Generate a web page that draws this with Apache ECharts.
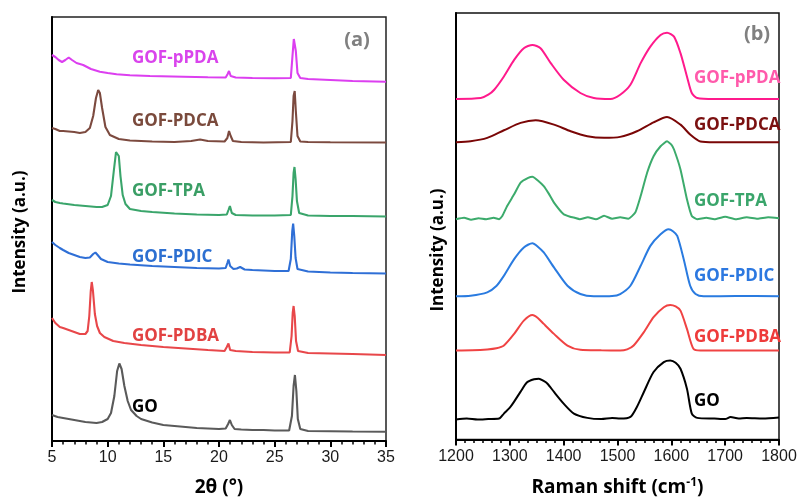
<!DOCTYPE html>
<html><head><meta charset="utf-8">
<script src="https://cdn.jsdelivr.net/npm/echarts@6/dist/echarts.min.js"></script>
<style>html,body{margin:0;padding:0;background:#fff}#c{width:801px;height:502px}</style>
</head><body><div id="c"></div>
<script>
// ---- XRD (panel a) : [2theta, stacked intensity] ----
const xrdGO = [[5,26],[5.5,24],[6,23],[7,21],[8,19],[9,18],[9.5,19],[10,22],[10.3,28],[10.6,45],[10.85,70],[11.05,77.5],[11.25,72],[11.5,55],[11.8,40],[12.1,31],[12.6,25],[13,22],[14,18.5],[15,16],[16,15],[17,14],[18,13],[19,12.5],[20,12],[20.6,12.5],[20.82,17],[20.98,21],[21.15,16],[21.4,12],[22,11.5],[23,11],[24,11],[25,10.5],[26.3,10.5],[26.55,25],[26.7,55],[26.82,66],[26.95,50],[27.08,22],[27.3,12],[28,10],[30,9.8],[32,9.5],[35,9.3]];
const xrdPDBA = [[5,123],[5.3,118],[5.7,114],[6,113],[6.5,111],[7,109],[7.5,107],[8,107],[8.2,110],[8.35,125],[8.48,150],[8.57,159],[8.68,150],[8.85,127],[9.05,115],[9.3,108],[9.7,104],[10.5,100],[11.5,98],[13,96],[15,94],[17,92.5],[19,91],[20.5,90],[20.7,94],[20.85,97.5],[21,91],[21.5,90],[23,89],[25,88.5],[26.35,88.5],[26.52,105],[26.62,128],[26.7,135],[26.8,125],[26.92,100],[27.1,90],[28,88],[30,87.5],[32,87],[35,86]];
const xrdPDIC = [[5,199],[5.3,196],[5.7,193],[6,191],[6.5,188],[7,186],[7.5,184],[8,183],[8.4,183.5],[8.7,187],[8.9,188.5],[9.1,186],[9.4,182],[10,179],[11,177.5],[12,176.5],[14,175],[16,174],[18,173],[20,172.5],[20.6,173],[20.75,178],[20.85,181.5],[21,175],[21.3,172],[21.6,172.5],[21.9,174],[22.3,171.5],[23,171],[25,170],[26.25,170],[26.45,182],[26.58,210],[26.66,217.5],[26.76,205],[26.88,183],[27.05,172],[28,169.5],[30,168.5],[32,168],[35,167.5]];
const xrdTPA = [[5,241],[5.3,239],[5.7,238],[6,237.5],[7,236],[8,235],[9,234],[9.5,234],[10,236],[10.3,245],[10.55,270],[10.75,289],[10.88,291],[11,285],[11.15,265],[11.35,246],[11.6,237],[12,232],[13,230],[14,229],[16,227.5],[18,226.5],[20,226],[20.7,226.5],[20.85,231],[20.98,235],[21.15,228],[21.5,226],[23,225.5],[25,225.5],[26.45,226],[26.6,245],[26.7,268],[26.78,274],[26.88,262],[27,240],[27.2,228],[28,225.5],[30,225],[32,225],[35,224.5]];
const xrdPDCA = [[5,313],[5.3,312],[5.7,310],[6,310],[7,309],[7.5,308],[8,309],[8.4,313],[8.7,325],[8.95,343],[9.15,351],[9.3,348],[9.5,333],[9.8,314],[10.2,306],[11,302],[12,300.5],[14,299.5],[16,299],[17.5,300],[18.3,301.5],[19,300],[20.5,299.5],[20.75,303],[20.9,310],[21.05,305],[21.25,300],[22,299],[24,298.5],[26.45,299],[26.6,320],[26.7,345],[26.8,350],[26.9,330],[27.05,305],[27.3,299.5],[28,299],[30,298.7],[35,298.5]];
const xrdPPDA = [[5,386],[5.3,384],[5.6,381],[5.9,379],[6.2,381],[6.5,383.5],[6.8,381],[7.2,378],[7.8,376],[8.5,372],[9.3,369.3],[10,368],[10.8,366.7],[12,365.8],[13.8,365],[16.8,364.3],[19,363.8],[20.6,363.5],[20.78,367],[20.9,370],[21.05,365],[21.5,363.5],[23,363],[25,362.7],[26.45,363],[26.6,385],[26.72,402],[26.8,404],[26.9,390],[27.05,368],[27.3,363],[28,362],[30,361],[32,360],[35,359.3]];

// ---- Raman (panel b) : [shift, stacked intensity] ----
const ramGO = [[1200,20],[1220,21],[1240,20],[1260,20.5],[1280,21],[1289,26],[1300,32],[1308,38],[1320,48],[1332,57.5],[1345,60.5],[1354,61],[1362,59],[1370,56],[1382,47.7],[1400,36],[1419,26],[1444,21.7],[1470,20.5],[1490,21.5],[1505,21],[1524,22.7],[1536,32.7],[1549,47.7],[1567,67.7],[1586,77.7],[1598,79.3],[1608,77],[1617,71],[1629,51],[1638,26],[1648,21.7],[1680,21],[1700,20.5],[1710,22.5],[1725,21],[1740,21.5],[1770,21],[1800,22]];
const ramPDBA = [[1200,89.3],[1230,89.5],[1258,90.3],[1275,91.5],[1289,94.3],[1308,106],[1326,119.3],[1342,125],[1352,122],[1363,116],[1382,106],[1407,94.3],[1431,90],[1470,89.5],[1505,89.3],[1518,90.5],[1530,94.3],[1549,107.7],[1567,122.7],[1586,132.7],[1598,135],[1608,133.5],[1617,129.3],[1629,111],[1641,91],[1654,89.3],[1700,89.3],[1800,89.3]];
const ramPDIC = [[1200,143.7],[1227,144.3],[1258,147.7],[1275,154],[1289,164.3],[1308,181],[1326,192.7],[1342,197],[1352,193.5],[1363,187.7],[1382,172.7],[1407,154.3],[1431,146],[1456,143.7],[1490,144],[1505,146],[1524,154.3],[1543,174.3],[1561,194.3],[1580,206],[1595,211],[1603,209],[1611,204.3],[1623,181],[1635,154.3],[1645,146],[1660,143.7],[1720,144],[1800,143.7]];
const ramTPA = [[1200,221],[1215,222.5],[1228,220.5],[1242,222],[1256,221],[1270,222.5],[1280,221],[1286,224.3],[1295,234.3],[1308,246],[1320,257.7],[1334,262.5],[1342,263.7],[1352,260],[1363,254.3],[1372,247],[1382,237.7],[1400,226],[1412,223.5],[1419,222.7],[1430,221],[1445,223],[1460,221],[1475,224.5],[1490,221.5],[1505,223],[1520,221.5],[1533,227.7],[1543,244.3],[1555,267.7],[1567,284.3],[1580,294.3],[1592,299.3],[1600,296],[1605,291],[1617,271],[1629,241],[1638,224.3],[1648,221],[1665,222.5],[1680,221],[1700,223.5],[1720,221],[1740,223],[1760,221.5],[1780,223],[1800,222]];
const ramPDCA = [[1200,298.3],[1227,299.3],[1258,302.7],[1289,310.3],[1320,317.7],[1348,320.3],[1382,316],[1413,309.3],[1444,304.3],[1475,302.7],[1505,303.7],[1536,309.3],[1567,318.3],[1592,323.7],[1617,316],[1635,306],[1654,299],[1680,298.3],[1800,298.3]];
const ramPPDA = [[1200,341.7],[1246,342.7],[1260,346],[1271,351],[1289,364.3],[1308,381],[1326,392.7],[1342,396],[1357,392.7],[1376,377.7],[1400,361],[1431,347.7],[1456,342.7],[1487,341.7],[1505,346],[1524,356],[1543,377.7],[1561,394.3],[1580,406],[1592,408.3],[1605,404.3],[1617,387.7],[1629,364.3],[1638,347.7],[1648,342.7],[1680,341.7],[1800,341.7]];

const xrdTicks = [5, 10, 15, 20, 25, 30, 35];
const ramTicks = [1200, 1300, 1400, 1500, 1600, 1700, 1800];

const xrdColors = {GO:'#5a5a5a', PDBA:'#e8474a', PDIC:'#2f6fd6', TPA:'#3aa56b', PDCA:'#7c4a3f', pPDA:'#dc3ff0'};
const ramColors = {GO:'#000000', PDBA:'#f04343', PDIC:'#2a7be0', TPA:'#3cab6c', PDCA:'#7a0606', pPDA:'#ff1a8c'};

const chart = echarts.init(document.getElementById('c'), null, {renderer:'canvas'});
const tickFont = {fontFamily:'Liberation Sans', fontSize:16, color:'#1a1a1a'};
const titleFont = 'Open Sans';

function xAxisCfg(idx, min, max, interval, minorSplit, name, ticks) {
  return {
    gridIndex: idx, type:'value', min, max, interval,
    axisLine:{show:true, onZero:false, lineStyle:{color:'#000', width:2}},
    axisTick:{show:true, inside:false, length:6, lineStyle:{color:'#000', width:2}},
    minorTick:{show:true, splitNumber:minorSplit, length:3.5, lineStyle:{color:'#000', width:1.5}},
    splitLine:{show:false},
    axisLabel:Object.assign({margin:9, formatter: v => ticks.includes(v) ? String(v) : ''}, tickFont),
    name, nameLocation:'middle', nameGap:37,
    nameTextStyle:{fontFamily:titleFont, fontWeight:'bold', fontSize:19, color:'#000',
      rich:{sup:{fontFamily:titleFont, fontWeight:'bold', fontSize:12, color:'#000', verticalAlign:'top', padding:[0,0,10,0]}}}
  };
}
function yAxisCfg(idx, max) {
  return {gridIndex: idx, type:'value', min:0, max,
    axisLine:{show:true, lineStyle:{color:'#000', width:2}},
    axisTick:{show:false}, axisLabel:{show:false}, splitLine:{show:false}};
}
function line(data, color, xi, w, smooth) {
  return {type:'line', data, xAxisIndex:xi, yAxisIndex:xi, showSymbol:false, symbol:'none',
    smooth: smooth, lineStyle:{color, width:w}, silent:true, animation:false};
}
function label(x, y, text, color, size, align) {
  return {type:'text', x, y, silent:true, style:{text, fill:color, font:'bold '+size+'px "'+titleFont+'"', textAlign:align||'left', textVerticalAlign:'middle'}};
}

chart.setOption({
  animation:false,
  grid:[
    {left:52, top:17, width:334, height:424, show:true, borderColor:'#222', borderWidth:1.5},
    {left:456, top:13, width:323, height:428, show:true, borderColor:'#111', borderWidth:1.5}
  ],
  xAxis:[
    xAxisCfg(0, 5, 35, 5, 5, '2θ (°)', xrdTicks),
    xAxisCfg(1, 1200, 1800, 100, 6, 'Raman shift (cm{sup|-1})', ramTicks)
  ],
  yAxis:[yAxisCfg(0, 424), yAxisCfg(1, 428)],
  series:[
    line(xrdGO, xrdColors.GO, 0, 2.1, false),
    line(xrdPDBA, xrdColors.PDBA, 0, 2.1, false),
    line(xrdPDIC, xrdColors.PDIC, 0, 2.1, false),
    line(xrdTPA, xrdColors.TPA, 0, 2.1, false),
    line(xrdPDCA, xrdColors.PDCA, 0, 2.1, false),
    line(xrdPPDA, xrdColors.pPDA, 0, 2.1, false),
    line(ramGO, ramColors.GO, 1, 2, 0.25),
    line(ramPDBA, ramColors.PDBA, 1, 2, 0.25),
    line(ramPDIC, ramColors.PDIC, 1, 2, 0.25),
    line(ramTPA, ramColors.TPA, 1, 2, 0.15),
    line(ramPDCA, ramColors.PDCA, 1, 2, 0.25),
    line(ramPPDA, ramColors.pPDA, 1, 2, 0.25)
  ],
  graphic:[
    label(132, 58, 'GOF-pPDA', '#d944ec', 17),
    label(132, 121, 'GOF-PDCA', '#7a4a3c', 17),
    label(132, 191, 'GOF-TPA', '#3a9e65', 17),
    label(132, 257, 'GOF-PDIC', '#2c6fd1', 17),
    label(132, 336, 'GOF-PDBA', '#e24242', 17),
    label(132, 407, 'GO', '#000', 17),
    label(357, 40, '(a)', '#808080', 20, 'center'),
    label(694, 78, 'GOF-pPDA', '#ff5aab', 17),
    label(694, 125, 'GOF-PDCA', '#7b1010', 17),
    label(694, 201, 'GOF-TPA', '#3aa56b', 17),
    label(694, 276, 'GOF-PDIC', '#2c78e0', 17),
    label(694, 337, 'GOF-PDBA', '#ee3b3b', 17),
    label(694, 401, 'GO', '#000', 17),
    label(757, 34, '(b)', '#808080', 20, 'center'),
    {type:'text', x:20, y:232, rotation:Math.PI/2, silent:true, style:{text:'Intensity (a.u.)', fill:'#000', font:'bold 17px "'+titleFont+'"', textAlign:'center', textVerticalAlign:'middle'}},
    {type:'text', x:438, y:250, rotation:Math.PI/2, silent:true, style:{text:'Intensity (a.u.)', fill:'#000', font:'bold 17px "'+titleFont+'"', textAlign:'center', textVerticalAlign:'middle'}}
  ]
});
</script></body></html>
